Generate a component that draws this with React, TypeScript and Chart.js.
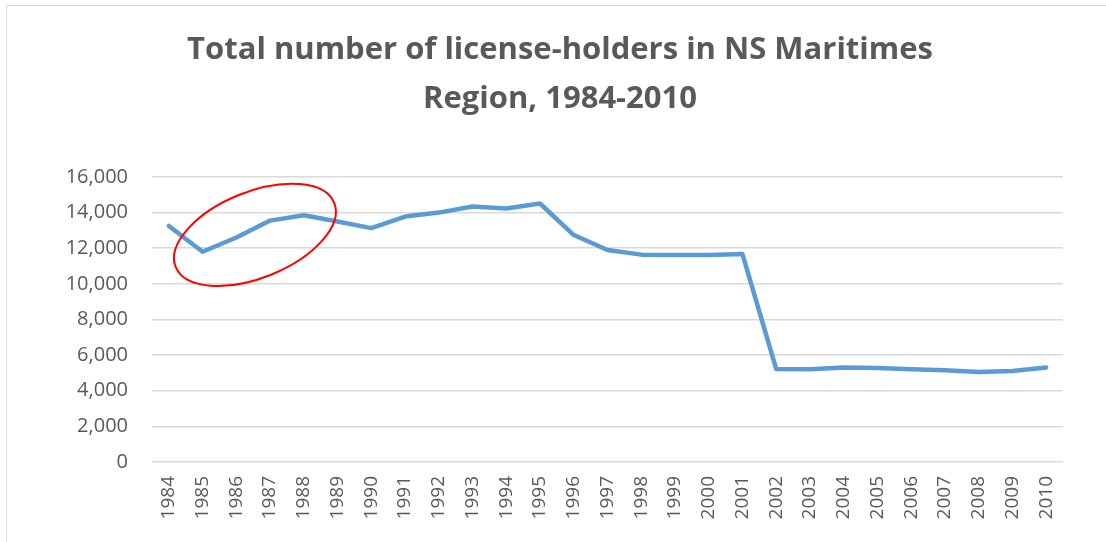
import React, { useEffect, useRef } from "react";
import { Chart, registerables } from "chart.js";

Chart.register(...registerables);

const titleLines = ["Total number of license-holders in NS Maritimes", "Region, 1984-2010"];

const years = [
  "1984", "1985", "1986", "1987", "1988", "1989", "1990", "1991", "1992",
  "1993", "1994", "1995", "1996", "1997", "1998", "1999", "2000", "2001",
  "2002", "2003", "2004", "2005", "2006", "2007", "2008", "2009", "2010",
];

const licenseHolders = [
  13250, 11800, 12600, 13550, 13850, 13500, 13130, 13780, 14000,
  14340, 14230, 14510, 12740, 11900, 11640, 11620, 11620, 11675,
  5220, 5200, 5300, 5280, 5200, 5150, 5050, 5110, 5310,
];

const yMin = 0;
const yMax = 16000;
const yStep = 2000;

// highlight annotation (in data units: category index, value)
const highlightCenter = { index: 2.55, value: 12750 };

const ellipsePlugin = {
  id: "highlightEllipse",
  afterDatasetsDraw(chart: any) {
    const { ctx, scales } = chart;
    const cx = scales.x.getPixelForValue(highlightCenter.index);
    const cy = scales.y.getPixelForValue(highlightCenter.value);
    ctx.save();
    ctx.beginPath();
    ctx.ellipse(cx, cy, 85.5, 43, (-22 * Math.PI) / 180, 0, Math.PI * 2);
    ctx.strokeStyle = "#FF0000";
    ctx.lineWidth = 2;
    ctx.stroke();
    ctx.restore();
  },
};

export default function App() {
  const canvasRef = useRef<HTMLCanvasElement | null>(null);

  useEffect(() => {
    if (!canvasRef.current) return;
    const chart = new Chart(canvasRef.current, {
      type: "line",
      data: {
        labels: years,
        datasets: [
          {
            data: licenseHolders,
            borderColor: "#5B9BD5",
            borderWidth: 4.5,
            pointRadius: 0,
            tension: 0,
            borderJoinStyle: "round",
            borderCapStyle: "round",
          },
        ],
      },
      options: {
        responsive: false,
        animation: false,
        layout: { padding: { left: 57, right: 43, top: 0, bottom: 0 } },
        plugins: {
          legend: { display: false },
          tooltip: { enabled: false },
          title: {
            display: true,
            text: titleLines,
            color: "#595959",
            font: { family: "'Open Sans'", size: 31, weight: "bold", lineHeight: 1.58 },
            padding: { top: 26, bottom: 53 },
          },
        },
        scales: {
          x: {
            offset: true,
            grid: { display: false, drawTicks: false },
            border: { display: false },
            ticks: {
              color: "#595959",
              font: { family: "'Open Sans'", size: 19 },
              maxRotation: 90,
              minRotation: 90,
              autoSkip: false,
              padding: 14,
            },
            afterFit(scale: any) {
              scale.height = 80;
            },
          },
          y: {
            min: yMin,
            max: yMax,
            grid: { color: "#D9D9D9", lineWidth: 1.5, drawTicks: false },
            border: { display: false },
            ticks: {
              stepSize: yStep,
              color: "#595959",
              font: { family: "'Open Sans'", size: 20 },
              padding: 24,
              callback: (v: any) => Number(v).toLocaleString("en-US"),
            },
            afterFit(scale: any) {
              scale.width = 95;
            },
          },
        },
      },
      plugins: [ellipsePlugin],
    });
    return () => chart.destroy();
  }, []);

  return (
    <div style={{ position: "absolute", left: 0, top: 0, width: 1106, height: 542, background: "#fff", overflow: "hidden" }}>
      <div
        style={{
          position: "absolute",
          left: 6,
          top: 5,
          width: 1106,
          height: 542,
          borderLeft: "1.5px solid #D9D9D9",
          borderTop: "1.5px solid #D9D9D9",
        }}
      />
      <canvas ref={canvasRef} width={1106} height={542} style={{ position: "absolute", left: 0, top: 0 }} />
    </div>
  );
}
